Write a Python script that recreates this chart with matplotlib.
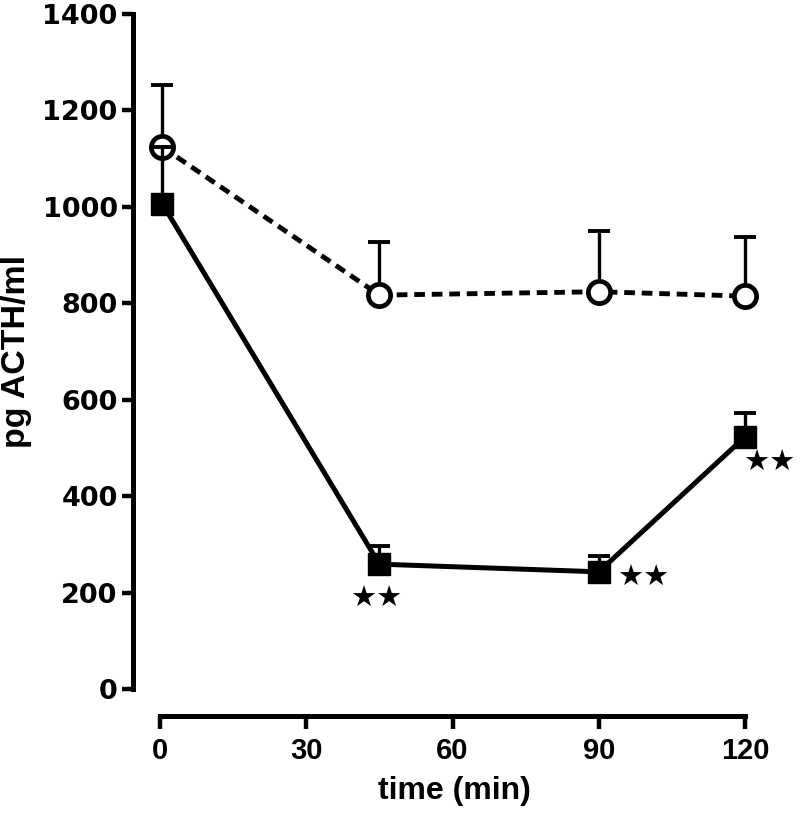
import matplotlib
matplotlib.use("Agg")
import matplotlib.pyplot as plt

# ---- data ----
time_min = [0.5, 45, 90, 120]
control_mean = [1124, 817, 824, 815]      # open circles, dashed
control_err = [129, 110, 125, 122]
treated_mean = [1006, 259, 243, 523]      # filled squares, solid
treated_err = [119, 38, 33, 49]
star_labels = ["★★", "★★", "★★"]
star_index = [1, 2, 3]
x_ticks = [0, 30, 60, 90, 120]
y_ticks = [0, 200, 400, 600, 800, 1000, 1200, 1400]

plt.rcParams['font.family'] = ['Liberation Sans', 'DejaVu Sans']

fig = plt.figure(figsize=(8, 8.17), dpi=100)
ax = fig.add_axes([133 / 800, 101 / 817, (784 - 133) / 800, (716 - 4.4) / 817])

# control
ax.errorbar(time_min, control_mean, yerr=[[0] * 4, control_err], fmt='none',
            ecolor='black', elinewidth=2.4, capsize=8, capthick=2.8, zorder=2)
ax.plot(time_min, control_mean, color='black', lw=3.5, dashes=(2.2, 1.4),
        marker='o', markersize=16, markerfacecolor='white',
        markeredgecolor='black', markeredgewidth=3.4, zorder=3)

# treated
ax.errorbar(time_min, treated_mean, yerr=[[0] * 4, treated_err], fmt='none',
            ecolor='black', elinewidth=2.4, capsize=8, capthick=2.8, zorder=4)
ax.plot(time_min, treated_mean, color='black', lw=3.6, marker='s',
        markersize=16, markerfacecolor='black', markeredgecolor='black',
        zorder=5)

# significance stars
offsets = [(-2, -25), (32, -4), (17.5, -19)]
for lab, i, off in zip(star_labels, star_index, offsets):
    ax.annotate(lab, xy=(time_min[i], treated_mean[i]), xytext=off,
                textcoords='offset points', ha='center', va='center',
                fontsize=21, family='DejaVu Sans', color='black')

ax.set_xlim(-5.54, 128)
ax.set_ylim(-56, 1420)

for s in ['top', 'right']:
    ax.spines[s].set_visible(False)
ax.spines['left'].set_bounds(0, 1400)
ax.spines['bottom'].set_bounds(0, 120)
ax.spines['left'].set_linewidth(3.6)
ax.spines['bottom'].set_linewidth(3.6)
ax.spines['left'].set_capstyle('projecting')
ax.spines['bottom'].set_capstyle('projecting')

ax.set_xticks(x_ticks)
ax.set_yticks(y_ticks)
ax.tick_params(axis='both', width=3.2, length=8, pad=3)
ax.tick_params(axis='x', length=9, pad=6, labelsize=21)
ax.tick_params(axis='y', labelsize=19.5)
for lab in ax.get_xticklabels():
    lab.set_fontweight('bold')
for lab in ax.get_yticklabels():
    lab.set_fontweight('bold')
    lab.set_family('DejaVu Sans')

ax.set_xlabel('time (min)', fontsize=23, fontweight='bold')
ax.set_ylabel('pg ACTH/ml', fontsize=24.5, fontweight='bold')
ax.xaxis.set_label_coords((454 - 133) / (784 - 133), -0.085)
ax.yaxis.set_label_coords(-0.155, (716 - 352) / (716 - 4.4))

fig.savefig('out.png', dpi=100)
